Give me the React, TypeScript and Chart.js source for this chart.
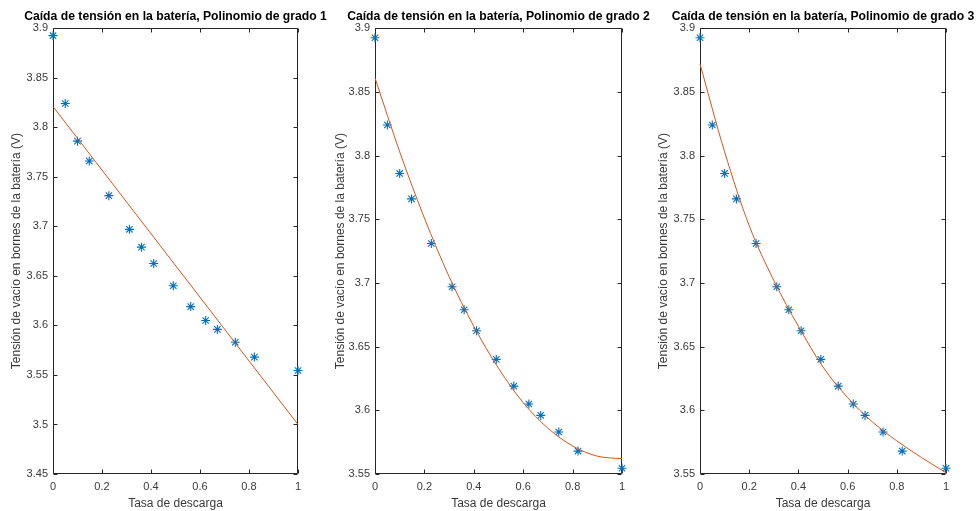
import React, { useEffect, useRef } from 'react';
import { Chart, registerables } from 'chart.js';

Chart.register(...registerables);

// ---- Data ----
const dischargeRate = [0, 0.05, 0.1, 0.148, 0.228, 0.312, 0.361, 0.411, 0.491, 0.562, 0.623, 0.671, 0.744, 0.822, 1.0];
const openCircuitVoltage = [3.8925, 3.824, 3.786, 3.766, 3.731, 3.697, 3.679, 3.6625, 3.64, 3.619, 3.605, 3.596, 3.583, 3.568, 3.5545];

const fitXLinear = [0, 1];
const fitYLinear = [3.821, 3.5];
const fitXGrid = [0, 0.1, 0.2, 0.3, 0.4, 0.5, 0.6, 0.7, 0.8, 0.9, 1.0];
const fitYQuadratic = [3.861, 3.803, 3.751, 3.705, 3.666, 3.633, 3.606, 3.586, 3.572, 3.564, 3.562];
const fitYCubic = [3.872, 3.803, 3.745, 3.702, 3.666, 3.634, 3.61, 3.591, 3.576, 3.563, 3.551];

const panelTitles = [
  'Caída de tensión en la batería, Polinomio de grado 1',
  'Caída de tensión en la batería, Polinomio de grado 2',
  'Caída de tensión en la batería, Polinomio de grado 3',
];
const xAxisLabel = 'Tasa de descarga';
const yAxisLabel = 'Tensión de vacío en bornes de la batería (V)';
const yMins = [3.45, 3.55, 3.55];
const yMax = 3.9;

const FONT = "'Liberation Sans', Arial, Helvetica, sans-serif";
const AXIS_COLOR = '#262626';
const TICK_COLOR = '#3a3a3a';
const TICK_LEN = 4;

const panels = [
  { left: 0, axisW: 53, width: 351, yTitlePad: 9.3, fitX: fitXLinear, fitY: fitYLinear },
  { left: 326, axisW: 49, width: 345, yTitlePad: 7.0, fitX: fitXGrid, fitY: fitYQuadratic },
  { left: 652, axisW: 48, width: 342, yTitlePad: 4.0, fitX: fitXGrid, fitY: fitYCubic },
];

const boxPlugin = {
  id: 'matlabBox',
  beforeDatasetsDraw(chart: any) {
    const { ctx, chartArea } = chart;
    const { left, right, top, bottom } = chartArea;
    const x = chart.scales.x;
    const y = chart.scales.y;
    ctx.save();
    ctx.strokeStyle = AXIS_COLOR;
    ctx.lineWidth = 1;
    const L = Math.round(left) + 0.5;
    const R = Math.round(right) - 0.5;
    const T = Math.round(top) + 0.5;
    const B = Math.round(bottom) - 0.5;
    ctx.beginPath();
    ctx.rect(L, T, R - L, B - T);
    x.ticks.forEach((t: any) => {
      const px = Math.round(x.getPixelForValue(t.value)) + 0.5;
      ctx.moveTo(px, B);
      ctx.lineTo(px, B - TICK_LEN);
      ctx.moveTo(px, T);
      ctx.lineTo(px, T + TICK_LEN);
    });
    y.ticks.forEach((t: any) => {
      const py = Math.round(y.getPixelForValue(t.value)) + 0.5;
      ctx.moveTo(L, py);
      ctx.lineTo(L + TICK_LEN, py);
      ctx.moveTo(R, py);
      ctx.lineTo(R - TICK_LEN, py);
    });
    ctx.stroke();
    ctx.restore();
  },
};

function Panel({ index }: { index: number }) {
  const ref = useRef<HTMLCanvasElement>(null);
  const p = panels[index];
  useEffect(() => {
    const yMin = yMins[index];
    const chart = new Chart(ref.current as HTMLCanvasElement, {
      type: 'scatter',
      data: {
        datasets: [
          {
            label: 'fit',
            data: p.fitX.map((xv, i) => ({ x: xv, y: p.fitY[i] })),
            showLine: true,
            borderColor: '#D95319',
            backgroundColor: '#D95319',
            borderWidth: 1,
            pointRadius: 0,
            pointHoverRadius: 0,
            cubicInterpolationMode: 'monotone',
            clip: false,
          } as any,
          {
            label: 'data',
            data: dischargeRate.map((xv, i) => ({ x: xv, y: openCircuitVoltage[i] })),
            showLine: false,
            pointStyle: 'star',
            pointRadius: 4.5,
            pointHoverRadius: 4.5,
            borderColor: '#0072BD',
            backgroundColor: '#0072BD',
            pointBorderWidth: 1.1,
            borderWidth: 1.1,
            clip: false,
          } as any,
        ],
      },
      options: {
        animation: false,
        responsive: false,
        devicePixelRatio: 1,
        events: [],
        layout: { padding: { top: 9.6, left: 0, right: 0, bottom: 0 } },
        plugins: {
          legend: { display: false },
          tooltip: { enabled: false },
          title: {
            display: true,
            text: panelTitles[index],
            color: '#000000',
            font: { family: FONT, size: 12.2, weight: 'bold' },
            padding: { top: 0, bottom: 4 },
          },
        },
        scales: {
          x: {
            type: 'linear',
            position: 'bottom',
            min: 0,
            max: 1,
            grid: { display: false, drawTicks: false },
            border: { display: false },
            ticks: {
              stepSize: 0.2,
              color: TICK_COLOR,
              font: { family: FONT, size: 11 },
              padding: 6.5,
              maxRotation: 0,
              callback: (v: any) => String(Math.round(Number(v) * 100) / 100),
            },
            title: {
              display: true,
              text: xAxisLabel,
              color: TICK_COLOR,
              font: { family: FONT, size: 12 },
              padding: { top: 0, bottom: 0.3 },
            },
            afterFit: (s: any) => {
              s.height = 37;
            },
          },
          y: {
            type: 'linear',
            position: 'left',
            min: yMin,
            max: yMax,
            grid: { display: false, drawTicks: false },
            border: { display: false },
            ticks: {
              stepSize: 0.05,
              color: TICK_COLOR,
              font: { family: FONT, size: 11 },
              padding: 5,
              callback: (v: any) => String(Math.round(Number(v) * 100) / 100),
            },
            title: {
              display: true,
              text: yAxisLabel,
              color: TICK_COLOR,
              font: { family: FONT, size: 12 },
              padding: { top: p.yTitlePad, bottom: 0 },
            },
            afterFit: (s: any) => {
              s.width = p.axisW;
            },
          },
          y2: {
            type: 'linear',
            position: 'right',
            min: yMin,
            max: yMax,
            display: true,
            grid: { display: false, drawTicks: false },
            border: { display: false },
            ticks: { display: false },
            title: { display: false },
            afterFit: (s: any) => {
              s.width = p.axisW;
            },
          },
        },
      } as any,
      plugins: [boxPlugin],
    });
    return () => chart.destroy();
  }, []);
  return (
    <canvas
      ref={ref}
      width={p.width}
      height={511}
      style={{ position: 'absolute', left: p.left, top: 0, width: p.width, height: 511 }}
    />
  );
}

export default function App() {
  return (
    <div
      style={{
        position: 'fixed',
        left: 0,
        top: 0,
        width: 977,
        height: 511,
        overflow: 'hidden',
        background: '#ffffff',
      }}
    >
      {panels.map((_, i) => (
        <Panel key={i} index={i} />
      ))}
    </div>
  );
}
